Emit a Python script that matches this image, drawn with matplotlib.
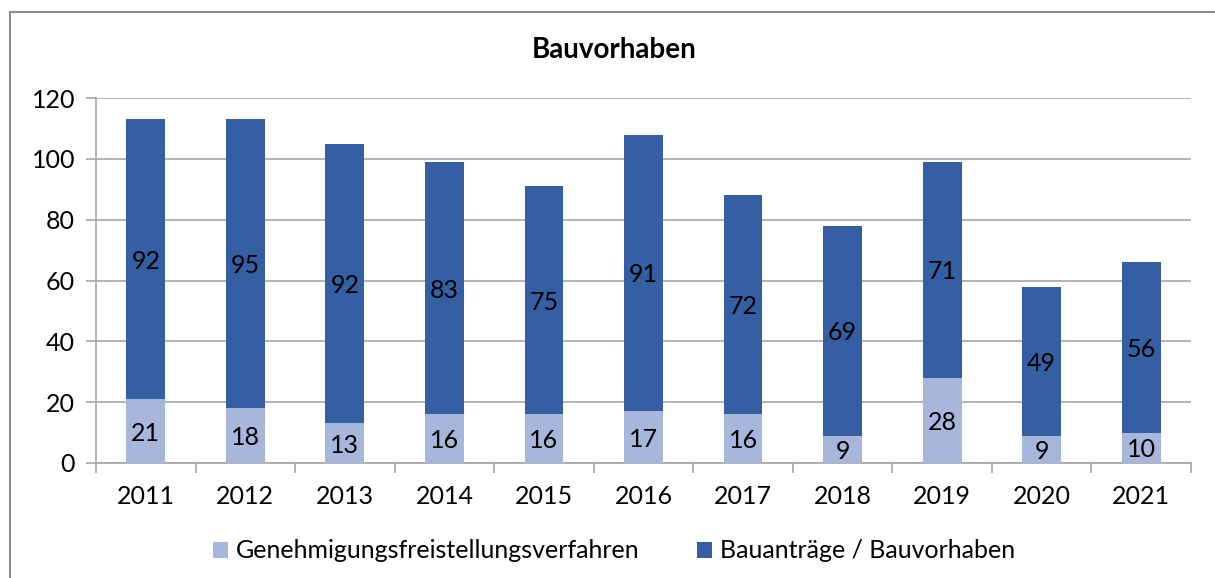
import matplotlib
matplotlib.use("Agg")
import matplotlib.pyplot as plt
from matplotlib.lines import Line2D
import numpy as np

plt.rcParams['font.family'] = ['Lato', 'DejaVu Sans']

years = ["2011", "2012", "2013", "2014", "2015", "2016", "2017", "2018", "2019", "2020", "2021"]
freistellung = [21, 18, 13, 16, 16, 17, 16, 9, 28, 9, 10]
bauantraege = [92, 95, 92, 83, 75, 91, 72, 69, 71, 49, 56]

light = "#A7B6DB"
dark = "#355FA3"
grid_c = "#A6A6A6"

W, H = 1215, 578
fig = plt.figure(figsize=(W / 100, H / 100), dpi=100)
ax = fig.add_axes([96 / W, 1 - 463 / H, (1191 - 96) / W, (463 - 98) / H])

x = np.arange(len(years))
b1 = ax.bar(x, freistellung, width=0.39, color=light, label="Genehmigungsfreistellungsverfahren", zorder=3)
b2 = ax.bar(x, bauantraege, width=0.39, bottom=freistellung, color=dark,
            label="Bauanträge / Bauvorhaben", zorder=3)

for xi, f, b in zip(x, freistellung, bauantraege):
    ax.text(xi, f / 2, str(f), ha="center", va="center_baseline", fontsize=18, color="black", zorder=4)
    ax.text(xi, f + b / 2, str(b), ha="center", va="center_baseline", fontsize=18, color="black", zorder=4)

ax.set_xlim(-0.5, len(years) - 0.5)
ax.set_ylim(0, 120)
ax.set_yticks(range(0, 121, 20))
ax.yaxis.grid(True, color=grid_c, linewidth=1.2, zorder=0)
ax.set_axisbelow(True)

for s in ["top", "right"]:
    ax.spines[s].set_visible(False)
ax.spines["left"].set_color(grid_c)
ax.spines["bottom"].set_color(grid_c)
ax.spines["left"].set_linewidth(1.2)
ax.spines["bottom"].set_linewidth(1.2)

ax.set_xticks(x)
ax.set_xticklabels(years)
ax.set_xticks(np.arange(-0.5, len(years), 1), minor=True)
ax.tick_params(axis="x", which="major", length=0, pad=16, labelsize=18)
ax.tick_params(axis="x", which="minor", length=7, color=grid_c, width=1.2)
ax.tick_params(axis="y", length=7, color=grid_c, width=1.2, labelsize=18, pad=8)

fig.text(614 / W, 1 - 50 / H, "Bauvorhaben", ha="center", va="center", fontsize=20, fontweight="bold")

fig.legend(handles=[b1, b2], loc="center", bbox_to_anchor=(614 / W, 1 - 551 / H), ncol=2,
           frameon=False, fontsize=18, handlelength=0.6, handleheight=0.6,
           handletextpad=0.3, columnspacing=2.3)

# outer frame
fig.add_artist(Line2D([10 / W, 10 / W], [0, 1 - 12 / H], color="#8C8C8C", linewidth=1.5))
fig.add_artist(Line2D([10 / W, 1], [1 - 12 / H, 1 - 12 / H], color="#8C8C8C", linewidth=1.5))

fig.savefig("out.png", dpi=100)
